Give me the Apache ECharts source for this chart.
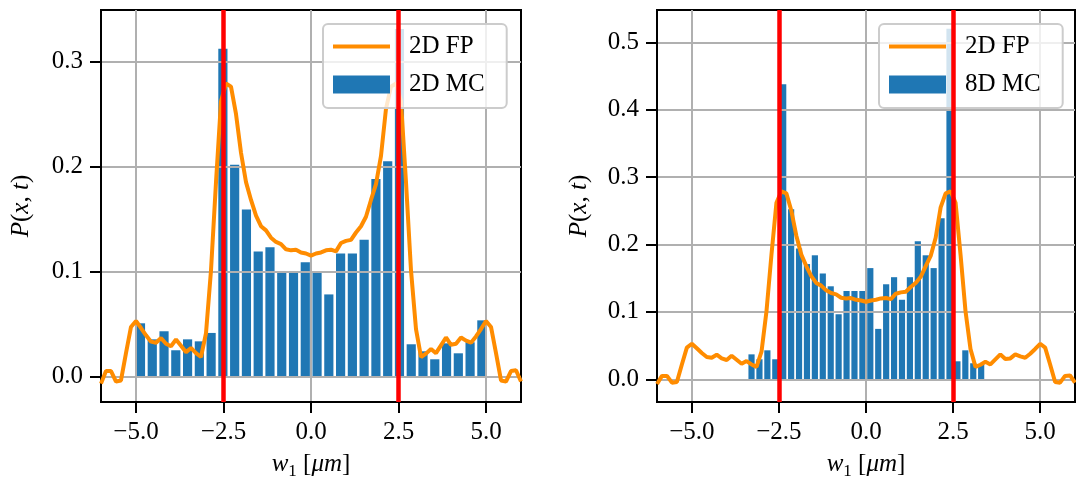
<!DOCTYPE html>
<html><head><meta charset="utf-8">
<script src="https://cdn.jsdelivr.net/npm/echarts@6/dist/echarts.min.js"></script>
<style>html,body{margin:0;padding:0;background:#fff}#c{width:1076px;height:486px}</style>
</head><body><div id="c"></div>
<script>
// ---- data ----
const fpX = [-6, -5.857, -5.714, -5.571, -5.429, -5.286, -5.143, -5, -4.857, -4.714, -4.571, -4.429, -4.286, -4.143, -4, -3.857, -3.714, -3.571, -3.429, -3.286, -3.143, -3, -2.857, -2.714, -2.571, -2.429, -2.286, -2.143, -2, -1.857, -1.714, -1.571, -1.429, -1.286, -1.143, -1, -0.857, -0.714, -0.571, -0.429, -0.286, -0.143, 0, 0.143, 0.286, 0.429, 0.571, 0.714, 0.857, 1, 1.143, 1.286, 1.429, 1.571, 1.714, 1.857, 2, 2.143, 2.286, 2.429, 2.571, 2.714, 2.857, 3, 3.143, 3.286, 3.429, 3.571, 3.714, 3.857, 4, 4.143, 4.286, 4.429, 4.571, 4.714, 4.857, 5, 5.143, 5.286, 5.429, 5.571, 5.714, 5.857, 6];
const fpY = [-0.007, 0.005, 0.005, -0.005, -0.004, 0.022, 0.047, 0.0527, 0.046, 0.039, 0.033, 0.032, 0.0365, 0.031, 0.0286, 0.035, 0.029, 0.023, 0.027, 0.022, 0.0184, 0.041, 0.101, 0.185, 0.262, 0.279, 0.276, 0.25, 0.213, 0.185, 0.168, 0.153, 0.143, 0.139, 0.132, 0.128, 0.126, 0.121, 0.12, 0.1206, 0.118, 0.117, 0.115, 0.117, 0.118, 0.12, 0.1206, 0.119, 0.127, 0.129, 0.13, 0.137, 0.143, 0.152, 0.168, 0.183, 0.21, 0.255, 0.276, 0.279, 0.262, 0.185, 0.101, 0.045, 0.0184, 0.0216, 0.026, 0.022, 0.0295, 0.037, 0.03, 0.031, 0.037, 0.034, 0.032, 0.038, 0.045, 0.0527, 0.047, 0.022, -0.004, -0.005, 0.005, 0.0057, -0.005];

const mc2Range = [-5.04, 5.05];
const mc2Vals = [0.0505, 0.0352, 0.0429, 0.0248, 0.0352, 0.0333, 0.0413, 0.312, 0.2016, 0.159, 0.119, 0.123, 0.0984, 0.0997, 0.1086, 0.0997, 0.078, 0.117, 0.117, 0.130, 0.188, 0.205, 0.331, 0.0305, 0.0238, 0.0162, 0.0314, 0.0219, 0.0324, 0.0533];

const mc8Range = [-3.40, 3.42];
const mc8Vals = [0.037, 0.0297, 0.043, 0.0297, 0.4377, 0.2525, 0.194, 0.171, 0.184, 0.157, 0.138, 0.0965, 0.131, 0.131, 0.131, 0.165, 0.0748, 0.141, 0.1515, 0.118, 0.1515, 0.205, 0.184, 0.165, 0.239, 0.52, 0.0267, 0.043, 0.0238, 0.0225];

const wallX = [-2.5, 2.5];
const xTicks = [-5, -2.5, 0, 2.5, 5];
const yTicksL = [0, 0.1, 0.2, 0.3];
const yTicksR = [0, 0.1, 0.2, 0.3, 0.4, 0.5];
const xRange = [-6, 6];
const yRangeL = [-0.0245, 0.349];
const yRangeR = [-0.0337, 0.548];
const seriesNames = { fp: '2D FP', mcL: '2D MC', mcR: '8D MC' };

// ---- styles ----
const FONT = '"Liberation Serif", "DejaVu Serif", serif';
const FS = 25;
const BLUE = '#1f77b4', ORANGE = '#ff8c00', RED = '#ff0000', GRIDC = '#b0b0b0';
const RWIDTH = 0.78;

const fpData = fpX.map((x, i) => [x, fpY[i]]);
function histData(range, vals) {
  const w = (range[1] - range[0]) / vals.length;
  return vals.map((v, i) => {
    const c = range[0] + (i + 0.5) * w;
    return [c - RWIDTH * w / 2, c + RWIDTH * w / 2, v];
  });
}
function histItem(params, api) {
  const p0 = api.coord([api.value(0), api.value(2)]);
  const p1 = api.coord([api.value(1), 0]);
  return { type: 'rect', shape: { x: p0[0], y: p0[1], width: p1[0] - p0[0], height: p1[1] - p0[1] },
           style: { fill: BLUE } };
}
const fmtX = v => v.toFixed(1).replace('-', '\u2212');
const fmtY = v => v.toFixed(1);
const nameRich = {
  i: { fontFamily: FONT, fontSize: FS, fontStyle: 'italic', color: '#000', lineHeight: 32 },
  n: { fontFamily: FONT, fontSize: FS, color: '#000', lineHeight: 32 },
  s: { fontFamily: FONT, fontSize: 17, color: '#000', verticalAlign: 'bottom', lineHeight: 32 }
};
function xAx(gi) {
  return {
    type: 'value', gridIndex: gi, min: xRange[0], max: xRange[1],
    axisLine: { show: true, onZero: false, lineStyle: { color: '#000', width: 2 } },
    axisTick: { show: true, customValues: xTicks, length: 11, lineStyle: { color: '#000', width: 2 } },
    axisLabel: { customValues: xTicks, formatter: fmtX, fontFamily: FONT, fontSize: FS, color: '#000', margin: 18 },
    splitLine: { show: true, lineStyle: { color: GRIDC, width: 2 } },
    name: '{i|w}{s|1}{n| [}{i|μm}{n|]}', nameLocation: 'middle', nameGap: 46,
    nameTextStyle: { rich: nameRich }
  };
}
function yAx(gi, range, ticks, gap) {
  return {
    type: 'value', gridIndex: gi, min: range[0], max: range[1],
    axisLine: { show: true, onZero: false, lineStyle: { color: '#000', width: 2 } },
    axisTick: { show: true, customValues: ticks, length: 11, lineStyle: { color: '#000', width: 2 } },
    axisLabel: { customValues: ticks, formatter: fmtY, fontFamily: FONT, fontSize: FS, color: '#000', margin: 18 },
    splitLine: { show: true, lineStyle: { color: GRIDC, width: 2 } },
    name: '{i|P}{n|(}{i|x}{n|, }{i|t}{n|)}', nameLocation: 'middle', nameGap: gap, nameRotate: 90,
    nameTextStyle: { rich: nameRich }
  };
}
function legendCfg(left, names) {
  return {
    left: left, top: 24, orient: 'vertical', selectedMode: false,
    data: [{ name: names[0], itemStyle: { opacity: 0 }, lineStyle: { width: 4, color: ORANGE } },
           { name: names[1], icon: 'rect' }],
    itemWidth: 57, itemHeight: 18, itemGap: 13, padding: [10, 22, 11, 8],
    backgroundColor: 'rgba(255,255,255,0.8)', borderColor: '#cccccc', borderWidth: 2, borderRadius: 5,
    textStyle: { fontFamily: FONT, fontSize: FS, color: '#000', padding: [0, 0, 0, 14] }
  };
}
function wallSeries(gi) {
  return {
    type: 'line', xAxisIndex: gi, yAxisIndex: gi, data: [], z: 4, silent: true,
    markLine: { silent: true, symbol: ['none', 'none'], animation: false, label: { show: false },
      lineStyle: { color: RED, width: 4.5, type: 'solid' },
      data: wallX.map(x => ({ xAxis: x })) }
  };
}

const chart = echarts.init(document.getElementById('c'), null, { renderer: 'canvas' });
chart.setOption({
  animation: false,
  grid: [
    { left: 101, top: 10, width: 420, height: 392, show: true, borderColor: '#000', borderWidth: 2, backgroundColor: 'transparent' },
    { left: 657, top: 10, width: 418, height: 392, show: true, borderColor: '#000', borderWidth: 2, backgroundColor: 'transparent' }
  ],
  xAxis: [xAx(0), xAx(1)],
  yAxis: [yAx(0, yRangeL, yTicksL, 64), yAx(1, yRangeR, yTicksR, 62)],
  legend: [legendCfg(323, [seriesNames.fp, seriesNames.mcL]), legendCfg(879, [seriesNames.fp, seriesNames.mcR])],
  series: [
    { type: 'custom', name: seriesNames.mcL, xAxisIndex: 0, yAxisIndex: 0, z: -1, renderItem: histItem,
      itemStyle: { color: BLUE }, encode: { x: [0, 1], y: 2 }, data: histData(mc2Range, mc2Vals) },
    { type: 'line', name: seriesNames.fp, xAxisIndex: 0, yAxisIndex: 0, z: 3, symbol: 'none', showSymbol: false,
      lineStyle: { color: ORANGE, width: 4 }, itemStyle: { color: ORANGE }, data: fpData },
    wallSeries(0),
    { type: 'custom', name: seriesNames.mcR, xAxisIndex: 1, yAxisIndex: 1, z: -1, renderItem: histItem,
      itemStyle: { color: BLUE }, encode: { x: [0, 1], y: 2 }, data: histData(mc8Range, mc8Vals) },
    { type: 'line', name: seriesNames.fp, xAxisIndex: 1, yAxisIndex: 1, z: 3, symbol: 'none', showSymbol: false,
      lineStyle: { color: ORANGE, width: 4 }, itemStyle: { color: ORANGE }, data: fpData },
    wallSeries(1)
  ]
});
</script></body></html>
